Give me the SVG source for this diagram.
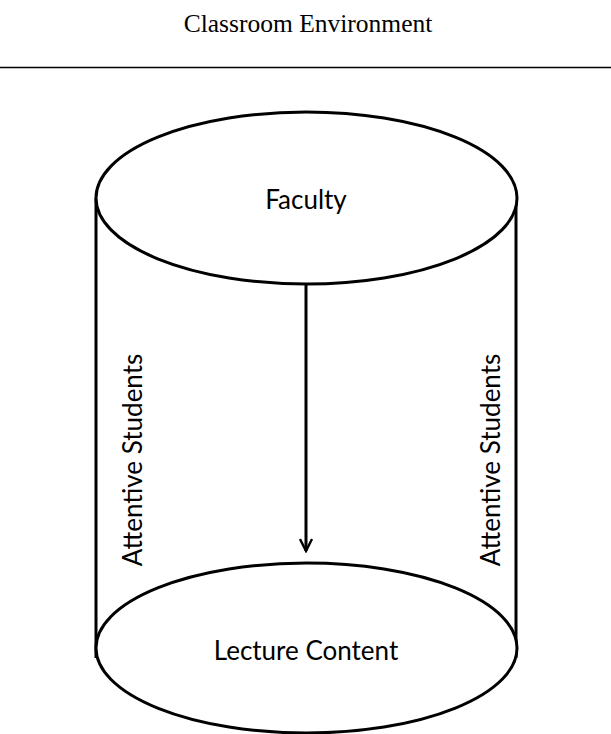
<svg xmlns="http://www.w3.org/2000/svg" width="611" height="734" viewBox="0 0 611 734">
<style>
.shape{fill:#fff;stroke:#000;stroke-width:3}
.line{stroke:#000;stroke-width:3;fill:none}
.lbl{font-family:Lato,"Open Sans","Liberation Sans",sans-serif;font-size:26px;fill:#000;text-anchor:middle}
.title{font-family:"Liberation Serif","Times New Roman",serif;font-size:25.5px;fill:#000;text-anchor:middle}
</style>
<defs>
<marker id="arr" viewBox="0 0 10 10" refX="9" refY="5" markerWidth="5" markerHeight="5" orient="auto" markerUnits="strokeWidth">
<path d="M1,1 L9,5 L1,9" fill="none" stroke="#000" stroke-width="1.6"/>
</marker>
</defs>
<rect width="611" height="734" fill="#fff"/>
<g id="header">
<text class="title" x="308" y="32">Classroom Environment</text>
<line x1="0" y1="67.5" x2="611" y2="67.5" stroke="#000" stroke-width="1.5"/>
</g>
<g id="sides">
<line class="line" x1="96" y1="198" x2="96" y2="658"/>
<line class="line" x1="516" y1="198" x2="516" y2="658"/>
</g>
<g id="lecture">
<ellipse class="shape" cx="306.5" cy="648" rx="210.5" ry="85"/>
<text class="lbl" x="306" y="660">Lecture Content</text>
</g>
<g id="faculty">
<ellipse class="shape" cx="306.5" cy="198" rx="210.5" ry="86"/>
<text class="lbl" x="306" y="209">Faculty</text>
</g>
<g id="connectors">
<line class="line" x1="306" y1="284" x2="306" y2="551" marker-end="url(#arr)"/>
</g>
<g id="students-left">
<text class="lbl" transform="translate(142,460) rotate(-90)">Attentive Students</text>
</g>
<g id="students-right">
<text class="lbl" transform="translate(500,460) rotate(-90)">Attentive Students</text>
</g>
</svg>
